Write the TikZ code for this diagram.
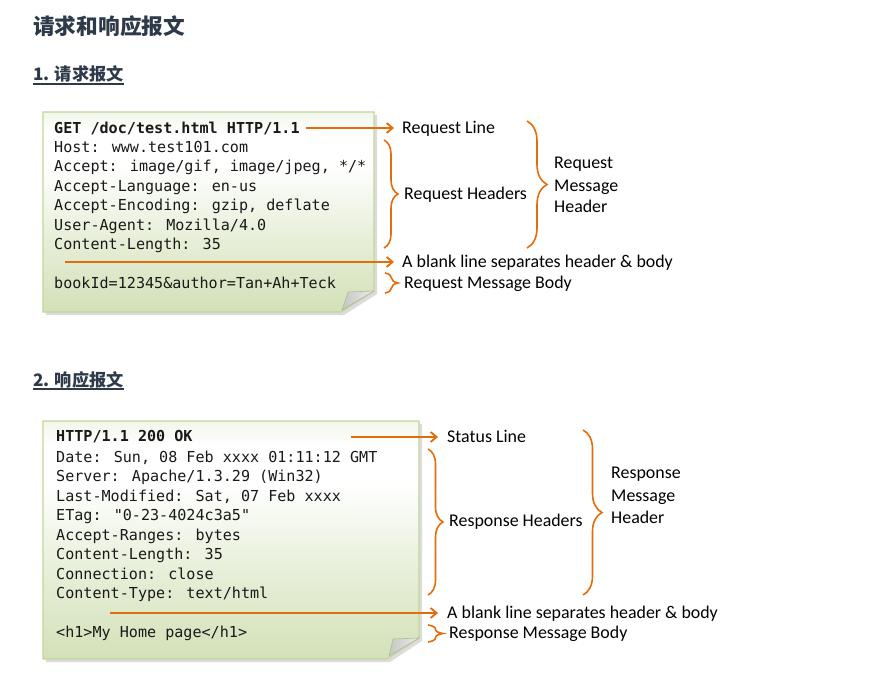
\documentclass[tikz,border=0pt]{standalone}
\usepackage{fontspec}
\setmainfont{Carlito}
\newfontfamily\monof{DejaVu Sans Mono}
\newfontfamily\cjk{Noto Sans CJK SC}
\usetikzlibrary{arrows.meta,decorations.pathreplacing}
\definecolor{orng}{HTML}{E46C0A}
\definecolor{headc}{HTML}{2E3A4A}
\definecolor{noteborder}{HTML}{C3D69B}
\definecolor{notebot}{HTML}{D3E1B8}
\pgfdeclareverticalshading{notefill}{100bp}{color(0bp)=(notebot); color(25bp)=(notebot); color(45bp)=(notebot!50!white); color(62bp)=(white); color(70bp)=(white); color(75bp)=(notebot!30!white); color(100bp)=(notebot!30!white)}
\begin{document}
\begin{tikzpicture}[x=1pt,y=-1pt,
  mono/.style={font=\monof\fontsize{15.1}{18}\selectfont, anchor=base west, inner sep=0pt, text height=11pt, text depth=0pt, text=black!90},
  lbl/.style={font=\fontsize{17.9}{21}\selectfont, anchor=base west, inner sep=0pt, text height=11pt, text depth=0pt, text=black},
  arr/.style={draw=orng, line width=1.8pt, -{Straight Barb[length=6pt,width=10pt]}},
  brc/.style={draw=orng, line width=1.6pt, decorate, decoration={brace, amplitude=#1}},
  notebox/.style={shading=notefill, draw=noteborder, line width=1.2pt},
  noteshadow/.style={fill=black!30, opacity=0.45},
  fold/.style={left color=gray!45, right color=gray!15, draw=noteborder!70!gray, line width=0.6pt},
  heading/.style={font=\cjk\bfseries\fontsize{17.2}{21}\selectfont, text=headc, anchor=base west, inner sep=0pt},
  uline/.style={draw=headc, line width=1.1pt}
]
\useasboundingbox (0,0) rectangle (869,684);

% titles
\node[font=\cjk\bfseries\fontsize{21.7}{26}\selectfont, text=headc, anchor=base west, inner sep=0pt] (title) at (33,34.5) {请求和响应报文};
\node[heading] (sec1) at (33,81) {1. 请求报文};
\draw[uline] ([yshift=-3pt]sec1.base west) -- ([yshift=-3pt]sec1.base east);
\node[heading] (sec2) at (33,386) {2. 响应报文};
\draw[uline] ([yshift=-3pt]sec2.base west) -- ([yshift=-3pt]sec2.base east);

% request note
\fill[noteshadow] (46,115) -- (377,115) -- (377,294) -- (344,315) -- (46,315) -- cycle;
\path[notebox] (43,112) -- (374,112) -- (374,291) -- (341,312) -- (43,312) -- cycle;
\shade[fold] (374,291) -- (348,292) -- (342,310) -- cycle;

\node[mono] (r1) at (54,133.5) {\bfseries GET /doc/test.html HTTP/1.1};
\node[mono] (r2) at (54,152.5) {Host: www.test101.com};
\node[mono] (r3) at (54,172) {Accept: image/gif, image/jpeg, */*};
\node[mono] (r4) at (54,191.5) {Accept-Language: en-us};
\node[mono] (r5) at (54,211) {Accept-Encoding: gzip, deflate};
\node[mono] (r6) at (54,230.5) {User-Agent: Mozilla/4.0};
\node[mono] (r7) at (54,250) {Content-Length: 35};
\node[mono] (r8) at (54,289) {bookId=12345\&author=Tan+Ah+Teck};

\node[lbl] (reqline) at (402,133.5) {Request Line};
\node[lbl] (reqhdrs) at (404,199.5) {Request Headers};
\node[lbl] (reqm1) at (554,168.5) {Request};
\node[lbl] (reqm2) at (554,191.5) {Message};
\node[lbl] (reqm3) at (554,212.5) {Header};
\node[lbl] (blank1) at (402,267.5) {A blank line separates header \& body};
\node[lbl] (reqbody) at (404,288.5) {Request Message Body};

\coordinate (bl1) at (65,262);
\draw[arr, shorten <=6pt, shorten >=8pt] (r1.east) -- (reqline.west);
\draw[arr, shorten >=8pt] (bl1) -- (blank1.west);
\draw[brc=14pt] (384,140) -- (384,248);
\draw[brc=20pt] (527,121) -- (527,248);
\draw[brc=13pt] (385,273) -- (385,293);

% response note
\fill[noteshadow] (46,424) -- (422,424) -- (422,641) -- (390,662) -- (46,662) -- cycle;
\path[notebox] (43,421) -- (419,421) -- (419,638) -- (387,659) -- (43,659) -- cycle;
\shade[fold] (419,638) -- (393,639) -- (389,656) -- cycle;

\node[mono] (s1) at (56,441.5) {\bfseries HTTP/1.1 200 OK};
\node[mono] (s2) at (56,462) {Date: Sun, 08 Feb xxxx 01:11:12 GMT};
\node[mono] (s3) at (56,481.5) {Server: Apache/1.3.29 (Win32)};
\node[mono] (s4) at (56,501) {Last-Modified: Sat, 07 Feb xxxx};
\node[mono] (s5) at (56,520.5) {ETag: "0-23-4024c3a5"};
\node[mono] (s6) at (56,540) {Accept-Ranges: bytes};
\node[mono] (s7) at (56,559.5) {Content-Length: 35};
\node[mono] (s8) at (56,579) {Connection: close};
\node[mono] (s9) at (56,598.5) {Content-Type: text/html};
\node[mono] (s10) at (56,637.5) {<h1>My Home page</h1>};

\node[lbl] (statusline) at (447,442.5) {Status Line};
\node[lbl] (resphdrs) at (449,526.5) {Response Headers};
\node[lbl] (respm1) at (611,478.5) {Response};
\node[lbl] (respm2) at (611,501.5) {Message};
\node[lbl] (respm3) at (611,523.5) {Header};
\node[lbl] (blank2) at (447,618.5) {A blank line separates header \& body};
\node[lbl] (respbody) at (449,638.5) {Response Message Body};

\coordinate (st) at (351,437);
\coordinate (bl2) at (110,613);
\draw[arr, shorten >=9pt] (st) -- (statusline.west);
\draw[arr, shorten >=9pt] (bl2) -- (blank2.west);
\draw[brc=15pt] (428,449) -- (428,595);
\draw[brc=19pt] (583,430) -- (583,595);
\draw[brc=15pt] (428,625) -- (428,642);
\end{tikzpicture}
\end{document}
